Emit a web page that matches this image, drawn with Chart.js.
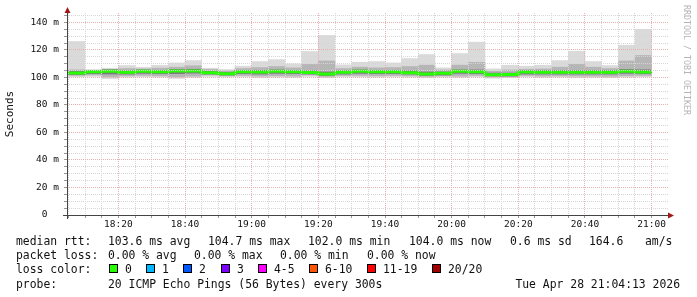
<!DOCTYPE html>
<html>
<head>
<meta charset="utf-8">
<script src="https://cdn.jsdelivr.net/npm/chart.js@4.4.1/dist/chart.umd.min.js"></script>
<style>
  body { margin: 0; background: #fff; }
  #wrap { position: relative; width: 697px; height: 297px; overflow: hidden;
          font-family: "DejaVu Sans Mono", monospace; font-size: 11.4px; color: #111; }
  #wrap canvas { position: absolute; left: 0; top: 0; }
  .t { position: absolute; white-space: pre; line-height: 14px; }
  .box { position: absolute; width: 7px; height: 7px; border: 1px solid #000; }
  #mark { position: absolute; left: 682px; top: 5px; writing-mode: vertical-rl;
          font-size: 8.3px; line-height: 10px; color: #b4b4b4; white-space: pre; }
</style>
</head>
<body>
<div id="wrap">
  <canvas id="smokeChart" width="697" height="297"></canvas>
  <div id="mark">RRDTOOL / TOBI OETIKER</div>
</div>
<script>
// 5 minute bins, start time of each
const binStart = ['18:05','18:10','18:15','18:20','18:25','18:30','18:35','18:40','18:45','18:50','18:55',
  '19:00','19:05','19:10','19:15','19:20','19:25','19:30','19:35','19:40','19:45','19:50','19:55',
  '20:00','20:05','20:10','20:15','20:20','20:25','20:30','20:35','20:40','20:45','20:50','20:55'];

// median rtt (ms)
const medianRtt = [103.3,104.2,104.6,103.8,104.6,104.2,104.7,104.7,103.5,102.8,104.2,
  104.0,104.5,104.2,103.6,102.5,103.8,104.5,104.2,104.2,103.5,102.6,103.0,
  104.5,104.2,102.0,102.1,104.0,103.9,103.8,103.8,103.8,103.8,104.5,104.0];

// smoke bands (ms), outer to inner
const smokeMax = [126.2,105.8,106.7,108.7,107.4,108.9,110.6,112.3,106.7,105.8,108.2,
  111.6,113.0,109.9,118.9,130.6,109.2,111.1,111.6,110.6,113.8,116.7,107.0,
  117.4,125.7,106.3,108.9,108.2,108.9,112.3,119.1,111.6,108.7,123.5,135.0];
const smokeMin = [100.5,100.8,99.2,100.2,100.5,100.2,99.3,100.0,100.8,100.5,100.5,
  99.8,100.2,100.0,100.8,99.8,100.5,100.5,100.2,100.5,100.2,99.8,100.2,
  100.0,100.5,99.5,99.8,100.5,100.0,100.2,99.8,100.0,99.8,100.2,100.5];
const smokeHigh = [105.6,105.2,105.8,106.5,106.2,106.8,107.5,108.5,105.8,104.8,106.5,
  107.2,108.0,107.0,109.5,112.0,106.5,107.5,107.0,107.2,108.0,109.0,105.5,
  109.0,111.0,104.5,105.5,106.0,106.2,107.5,109.5,107.5,106.5,112.0,116.0];
const smokeLow = [101.5,101.8,100.5,101.2,101.5,101.2,100.5,101.0,101.8,101.2,101.5,
  101.0,101.2,101.0,101.8,100.8,101.5,101.5,101.2,101.5,101.2,100.8,101.2,
  101.0,101.5,100.5,100.8,101.5,101.0,101.2,101.0,101.0,100.8,101.2,101.5];
const darkHigh = [104.5,105.0,105.6,104.8,105.5,105.2,105.8,106.0,104.5,103.8,105.2,
  105.2,105.5,105.2,104.8,104.0,104.8,105.5,105.2,105.2,104.8,104.0,104.0,
  105.5,105.5,103.2,103.2,105.0,105.0,105.0,105.0,105.0,105.0,105.8,105.6];
const darkLow = [102.2,102.8,102.5,102.5,103.0,102.8,102.8,103.2,102.5,101.8,102.8,
  102.5,103.0,102.8,102.5,101.5,102.5,103.0,102.8,102.8,102.5,101.5,101.8,
  103.0,102.8,101.2,101.0,102.5,102.5,102.5,102.5,102.5,102.5,103.0,102.8];

const xLabels = ['18:20','18:40','19:00','19:20','19:40','20:00','20:20','20:40','21:00'];
const yLabels = [0, 20, 40, 60, 80, 100, 120, 140];

const rttStats = ['103.6 ms avg','104.7 ms max','102.0 ms min','104.0 ms now','0.6 ms sd','164.6','am/s'];
const lossStats = ['0.00 % avg','0.00 % max','0.00 % min','0.00 % now'];
const lossNames = ['0','1','2','3','4-5','6-10','11-19','20/20'];
const lossColors = ['#26ff00','#00b8ff','#0059ff','#7e00ff','#ff00ff','#ff5500','#ff0000','#a10000'];
const probeText = '20 ICMP Echo Pings (56 Bytes) every 300s';
const stampText = 'Tue Apr 28 21:04:13 2026';

const toMin = s => { const p = s.split(':'); return +p[0] * 60 + +p[1]; };
const BIN = 5;

function band(lo, hi) {
  return binStart.map((s, i) => ({ x: toMin(s) + BIN / 2, y: [lo[i], hi[i]] }));
}
const medianPts = binStart.map((s, i) => ({ x: toMin(s), y: medianRtt[i] }));
medianPts.push({ x: toMin(binStart[binStart.length - 1]) + BIN, y: medianRtt[medianRtt.length - 1] });

const xMin = 1084.6, xMax = 1264.9;
const yMax = 146.9;
const MAJOR = '#e6b0b0', MINOR = '#d6d6d6';

const xTickVals = [];
for (let v = 1085; v <= xMax; v += 5) xTickVals.push(v);
const yTickVals = [];
for (let v = 0; v <= yMax; v += 5) yTickVals.push(v);

const axisArrows = {
  id: 'axisArrows',
  afterDraw(chart) {
    const { ctx, chartArea: a } = chart;
    const x0 = a.left + 0.5, y0 = a.bottom + 0.5;
    ctx.save();
    ctx.strokeStyle = '#444';
    ctx.lineWidth = 1;
    ctx.beginPath();
    ctx.moveTo(x0, a.bottom + 4); ctx.lineTo(x0, a.top - 3);
    ctx.moveTo(a.left - 4, y0); ctx.lineTo(a.right + 1, y0);
    ctx.stroke();
    ctx.fillStyle = '#a01818';
    ctx.beginPath();
    ctx.moveTo(x0, a.top - 6); ctx.lineTo(x0 - 3, a.top); ctx.lineTo(x0 + 3, a.top); ctx.closePath();
    ctx.moveTo(a.right + 6, y0); ctx.lineTo(a.right, y0 - 3); ctx.lineTo(a.right, y0 + 3); ctx.closePath();
    ctx.fill();
    ctx.restore();
  }
};

const barBase = { grouped: false, barPercentage: 1, categoryPercentage: 1, borderWidth: 0 };
const tickFont = { family: 'DejaVu Sans Mono', size: 9.5 };

new Chart(document.getElementById('smokeChart').getContext('2d'), {
  type: 'bar',
  data: {
    datasets: [
      { type: 'line', data: medianPts, borderColor: '#26ff00', borderWidth: 3,
        pointRadius: 0, stepped: true, fill: false, borderCapStyle: 'butt' },
      Object.assign({ data: band(darkLow, darkHigh), backgroundColor: '#7a7a7a' }, barBase),
      Object.assign({ data: band(smokeLow, smokeHigh), backgroundColor: '#b6b6b6' }, barBase),
      Object.assign({ data: band(smokeMin, smokeMax), backgroundColor: '#dadada' }, barBase)
    ]
  },
  options: {
    responsive: false,
    animation: false,
    devicePixelRatio: 1,
    layout: { padding: { top: 13, right: 29, bottom: 62, left: 0 } },
    plugins: { legend: { display: false }, tooltip: { enabled: false } },
    scales: {
      x: {
        type: 'linear', min: xMin, max: xMax, offset: false,
        afterBuildTicks: s => { s.ticks = xTickVals.map(v => ({ value: v })); },
        afterFit: s => { s.height = 20; },
        ticks: {
          autoSkip: false, maxRotation: 0, padding: 1, color: '#111', font: tickFont,
          callback: v => {
            const l = xLabels.find(t => toMin(t) === v);
            return l || '';
          }
        },
        grid: { z: 1, offset: false, tickLength: 3, tickColor: '#999',
                color: c => (c.tick && c.tick.value % 20 === 0) ? MAJOR : MINOR },
        border: { display: false, dash: [1, 1] }
      },
      y: {
        min: 0, max: yMax,
        afterBuildTicks: s => { s.ticks = yTickVals.map(v => ({ value: v })); },
        afterFit: s => { s.width = 67; },
        ticks: {
          autoSkip: false, padding: 5, color: '#111', font: tickFont,
          callback: v => yLabels.includes(v) ? (v === 0 ? '0  ' : v + ' m') : ''
        },
        grid: { z: 1, tickLength: 3, tickColor: '#999',
                color: c => (c.tick && c.tick.value % 20 === 0) ? MAJOR : MINOR },
        border: { display: false, dash: [1, 1] },
        title: { display: true, text: 'Seconds', color: '#111',
                 font: { family: 'DejaVu Sans Mono', size: 11 }, padding: { top: 4, bottom: 0 } }
      }
    }
  },
  plugins: [axisArrows]
});

// text legend below the graph
const wrap = document.getElementById('wrap');
function put(text, x, yc, extra) {
  const d = document.createElement('div');
  d.className = 't';
  d.textContent = text;
  d.style.left = x + 'px';
  d.style.top = (yc - 7) + 'px';
  if (extra) Object.assign(d.style, extra);
  wrap.appendChild(d);
}
const rows = [241, 255, 269, 283.5];
put('median rtt:', 16, rows[0]);
[108, 208, 308, 409, 510, 589, 645].forEach((x, i) => put(rttStats[i], x, rows[0]));
put('packet loss:', 16, rows[1]);
[108, 194, 280, 367].forEach((x, i) => put(lossStats[i], x, rows[1]));
put('loss color:', 16, rows[2]);
[108.5, 145.5, 183, 220.5, 258, 309, 367, 432].forEach((x, i) => {
  const b = document.createElement('div');
  b.className = 'box';
  b.style.left = Math.round(x) + 'px';
  b.style.top = (rows[2] - 5) + 'px';
  b.style.background = lossColors[i];
  wrap.appendChild(b);
  put(lossNames[i], Math.round(x) + 16, rows[2]);
});
put('probe:', 16, rows[3]);
put(probeText, 108, rows[3]);
const st = document.createElement('div');
st.className = 't';
st.textContent = stampText;
st.style.right = '17px';
st.style.top = (rows[3] - 7) + 'px';
wrap.appendChild(st);
</script>
</body>
</html>
